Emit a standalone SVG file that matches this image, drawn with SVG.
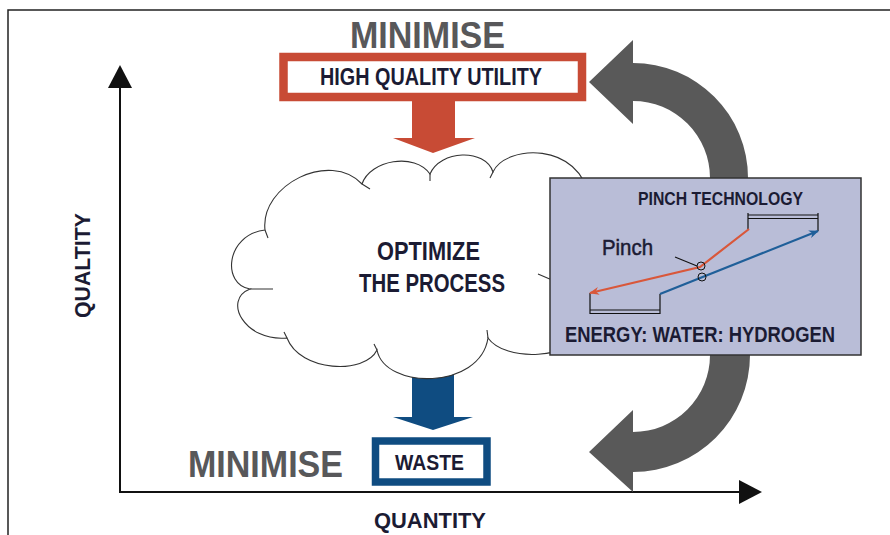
<svg xmlns="http://www.w3.org/2000/svg" width="890" height="535" viewBox="0 0 890 535">
<defs>
<style>
.t{font-family:"Liberation Sans","DejaVu Sans Condensed",Arial,sans-serif;font-weight:bold;fill:#1b1b33}
.g{fill:#58585a}
.gray{fill:#595959}
.ax{stroke:#111;stroke-width:2;fill:none}
.cl{fill:#fff;stroke:#333;stroke-width:1.1}
.tail{fill:none;stroke:#333;stroke-width:1.1}
</style>
<marker id="ahR" markerWidth="10" markerHeight="8" refX="9" refY="4" orient="auto" markerUnits="userSpaceOnUse">
<path d="M0,0 L10,4 L0,8 L3,4 Z" fill="#d9573a"/>
</marker>
<marker id="ahB" markerWidth="10" markerHeight="8" refX="9" refY="4" orient="auto" markerUnits="userSpaceOnUse">
<path d="M0,0 L10,4 L0,8 L3,4 Z" fill="#1f5f99"/>
</marker>
</defs>
<rect width="890" height="535" fill="#fff"/>
<!-- frame -->
<path d="M8,535 L8,10 L890,10" fill="none" stroke="#222" stroke-width="1.5"/>

<g id="connectors">
<!-- axes -->
<path class="ax" d="M120,88 L120,492 L740,492"/>
<path d="M108,88 L120,65 L132,88 Z" fill="#111"/>
<path d="M739,480 L762,492 L739,504 Z" fill="#111"/>
<!-- red down arrow -->
<path d="M412,100 L455,100 L455,138 L475,138 L433,153 L393,138 L412,138 Z" fill="#c84b35"/>
<!-- blue down arrow -->
<path d="M412,373 L454,373 L454,417 L473,417 L433,430 L393,417 L412,417 Z" fill="#0f4c81"/>
<!-- gray curved arrows -->
<path class="gray" d="M748,185 L748,178 A115,115 0 0 0 633,63 L633,40 L589,82 L633,124 L633,101 A77,77 0 0 1 710,178 L710,185 Z"/>
<path class="gray" d="M750,348 L750,355 A117,117 0 0 1 633,472 L633,492 L589,452 L633,410 L633,432 A77,77 0 0 0 710,355 L710,348 Z"/>
</g>

<g id="minimise-top"><text class="t g" x="427.5" y="48" font-size="36" text-anchor="middle" textLength="155" lengthAdjust="spacingAndGlyphs">MINIMISE</text></g>

<g id="utility">
<rect x="283.5" y="57" width="298.5" height="40" fill="#fff" stroke="#c84b35" stroke-width="8.5"/>
<text class="t" x="431" y="85" font-size="23" text-anchor="middle" textLength="222" lengthAdjust="spacingAndGlyphs">HIGH QUALITY UTILITY</text>
</g>

<g id="cloud">
<path class="cl" d="M265,230 C260,185 330,150 362,184 C370,160 415,152 430,174 C440,150 485,148 493,172 C505,145 580,140 590,200 L592,330 C570,360 505,362 488,338 C480,390 385,390 377,350 C365,375 300,372 287,338 C245,342 222,300 250,289 C222,285 225,235 265,230 Z"/>
<path class="tail" d="M362,184 L370,189 M430,174 L430,181 M493,172 L490,178 M250,289 L273,289 M265,230 L268,238 M488,338 L487,330 M377,350 L374,344 M287,338 L284,332 M538,274 L552,280"/>
<text class="t" x="428.5" y="260" font-size="25" text-anchor="middle" textLength="103" lengthAdjust="spacingAndGlyphs">OPTIMIZE</text>
<text class="t" x="432" y="292" font-size="25" text-anchor="middle" textLength="146" lengthAdjust="spacingAndGlyphs">THE PROCESS</text>
</g>

<g id="pinch">
<rect x="550" y="178" width="311" height="177" fill="#b9bdd7" stroke="#333" stroke-width="1.5"/>
<text class="t" x="720.5" y="205" font-size="18" text-anchor="middle" textLength="165" lengthAdjust="spacingAndGlyphs">PINCH TECHNOLOGY</text>
<text class="t" x="602" y="255" font-size="22" style="font-weight:normal" stroke="#1b1b33" stroke-width="0.5" textLength="51" lengthAdjust="spacingAndGlyphs">Pinch</text>
<!-- brackets -->
<path d="M748,213 L748,229 M748,215 L818,215 M748,218.5 L818,218.5 M818,213 L818,231" fill="none" stroke="#111" stroke-width="1.2"/>
<path d="M590,293 L590,314 M590,310 L660,310 M590,313.5 L660,313.5 M660,294 L660,314" fill="none" stroke="#111" stroke-width="1.2"/>
<!-- curves -->
<path d="M749,229 L700,267 L590,293" fill="none" stroke="#d9573a" stroke-width="2.2" marker-end="url(#ahR)"/>
<path d="M660,294 L818,231" fill="none" stroke="#1f5f99" stroke-width="2.2" marker-end="url(#ahB)"/>
<path d="M675,257 L697,266" stroke="#111" stroke-width="1.1"/>
<circle cx="701" cy="266" r="4" fill="none" stroke="#111" stroke-width="1"/>
<circle cx="702" cy="277" r="4" fill="none" stroke="#111" stroke-width="1"/>
<text class="t" x="700" y="342" font-size="22" text-anchor="middle" textLength="270" lengthAdjust="spacingAndGlyphs">ENERGY: WATER: HYDROGEN</text>
</g>

<g id="minimise-bottom"><text class="t g" x="265.5" y="477" font-size="36" text-anchor="middle" textLength="155" lengthAdjust="spacingAndGlyphs">MINIMISE</text></g>

<g id="waste">
<rect x="375.5" y="441" width="111.5" height="41" fill="#fff" stroke="#0f4c81" stroke-width="7.5"/>
<text class="t" x="429.5" y="470" font-size="22" text-anchor="middle" textLength="69" lengthAdjust="spacingAndGlyphs">WASTE</text>
</g>

<g id="quantity"><text class="t" x="430" y="528" font-size="22" text-anchor="middle" textLength="112" lengthAdjust="spacingAndGlyphs">QUANTITY</text></g>
<g id="quality"><text class="t" transform="translate(90,265.5) rotate(-90)" x="0" y="0" font-size="22" text-anchor="middle" textLength="105" lengthAdjust="spacingAndGlyphs">QUALTITY</text></g>
</svg>
